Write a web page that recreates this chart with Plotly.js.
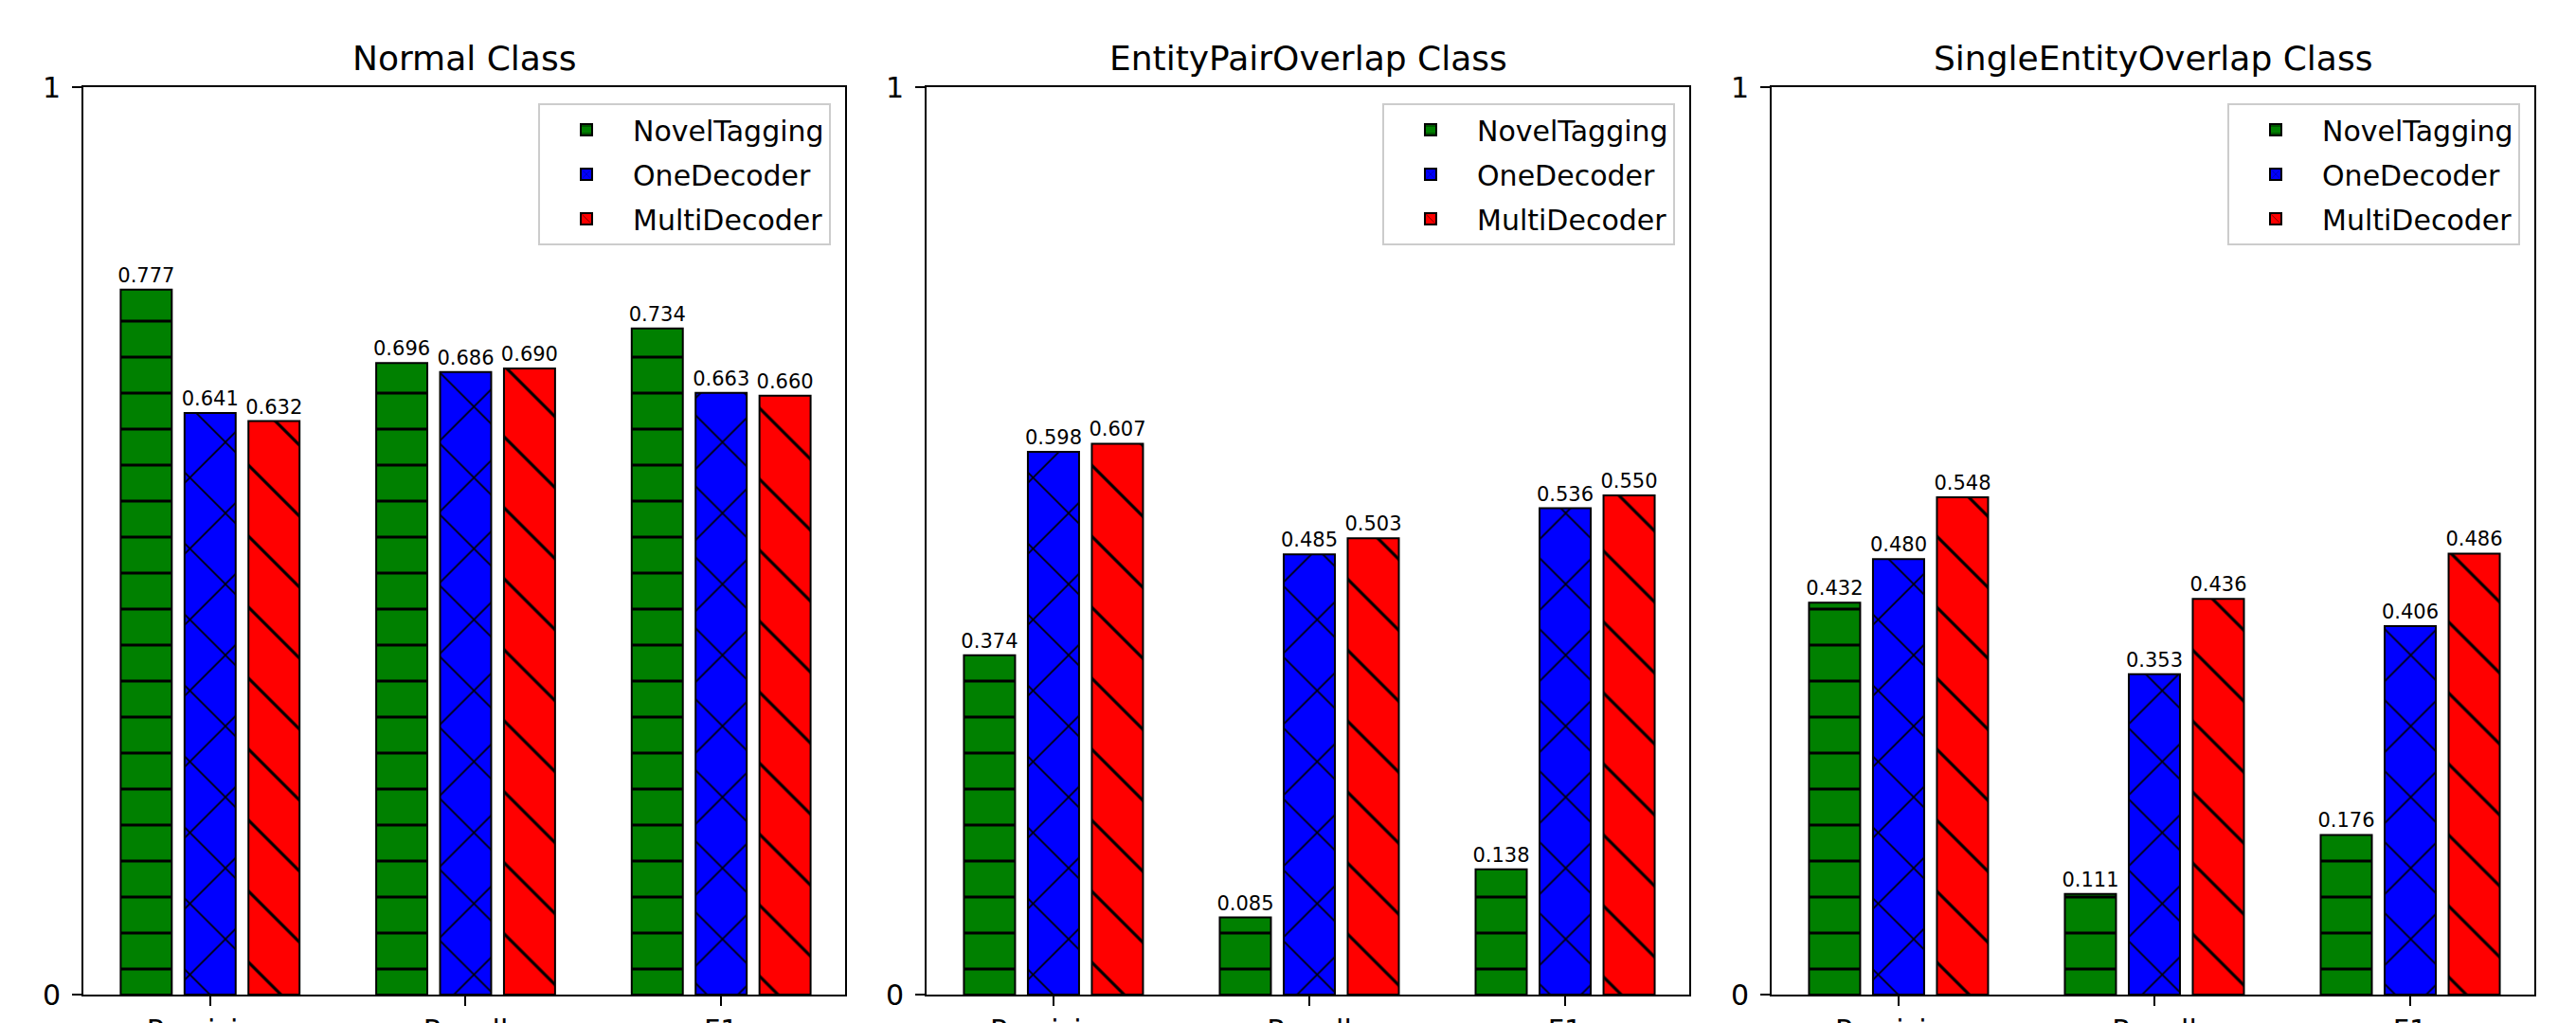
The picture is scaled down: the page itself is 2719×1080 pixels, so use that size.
<!DOCTYPE html>
<html>
<head>
<meta charset="utf-8">
<script src="https://cdn.plot.ly/plotly-3.0.1.min.js"></script>
<style>html,body{margin:0;padding:0;background:#fff;}#chart{width:2719px;height:1080px;}</style>
</head>
<body>
<div id="chart"></div>
<script>
// ---- data ----
const categories = ['Precision', 'Recall', 'F1'];
const seriesNames = ['NovelTagging', 'OneDecoder', 'MultiDecoder'];
const panelTitles = ['Normal Class', 'EntityPairOverlap Class', 'SingleEntityOverlap Class'];

const normalNovelTagging = [0.777, 0.696, 0.734];
const normalOneDecoder   = [0.641, 0.686, 0.663];
const normalMultiDecoder = [0.632, 0.690, 0.660];

const epoNovelTagging = [0.374, 0.085, 0.138];
const epoOneDecoder   = [0.598, 0.485, 0.536];
const epoMultiDecoder = [0.607, 0.503, 0.550];

const seoNovelTagging = [0.432, 0.111, 0.176];
const seoOneDecoder   = [0.480, 0.353, 0.406];
const seoMultiDecoder = [0.548, 0.436, 0.486];

const yTickVals = [0, 1];
const yTickText = ['0', '1'];

// ---- styling ----
const W = 2719, H = 1080;
const FONT = 'DejaVu Sans, sans-serif';
const colors = ['#008000', '#0000ff', '#ff0000'];
const patterns = [
  {shape: '-', size: 38, solidity: 0.08},
  {shape: 'x', size: 53, solidity: 0.06},
  {shape: '\\', size: 53, solidity: 0.06}
];
const panelsPx = [[88, 892], [978, 1783], [1870, 2675]];
const plotTop = 92, plotBottom = 1050;

const panels = [
  [normalNovelTagging, normalOneDecoder, normalMultiDecoder],
  [epoNovelTagging, epoOneDecoder, epoMultiDecoder],
  [seoNovelTagging, seoOneDecoder, seoMultiDecoder]
];

const traces = [];
const layout = {
  width: W, height: H,
  margin: {l: 0, r: 0, t: plotTop, b: H - plotBottom, pad: 0},
  paper_bgcolor: '#fff', plot_bgcolor: '#fff',
  barmode: 'group', bargap: 0.25, bargroupgap: 0.2,
  font: {family: FONT, color: '#000', size: 30},
  annotations: [],
  showlegend: true
};

panels.forEach((series, p) => {
  const sfx = p === 0 ? '' : String(p + 1);
  const xa = 'xaxis' + sfx, ya = 'yaxis' + sfx, lg = 'legend' + sfx;
  series.forEach((vals, s) => {
    traces.push({
      type: 'bar',
      x: categories,
      y: vals,
      name: seriesNames[s],
      xaxis: 'x' + sfx, yaxis: 'y' + sfx,
      legend: lg,
      legendgroup: 'p' + p + 's' + s,
      marker: {
        color: colors[s],
        line: {color: '#000', width: 2},
        pattern: Object.assign({fgcolor: '#000', fgopacity: 1, bgcolor: colors[s], fillmode: 'replace'}, patterns[s])
      },
      text: vals.map(v => v.toFixed(3)),
      textposition: 'outside',
      textfont: {size: 21, family: FONT, color: '#000'},
      constraintext: 'none',
      cliponaxis: false,
      hoverinfo: 'x+y'
    });
  });
  const d0 = panelsPx[p][0] / W, d1 = panelsPx[p][1] / W;
  layout[xa] = {
    domain: [d0, d1],
    anchor: 'y' + sfx,
    type: 'category',
    range: [-0.496, 2.485],
    showline: true, mirror: true, linecolor: '#000', linewidth: 2,
    ticks: 'outside', ticklen: 10, tickwidth: 2, tickcolor: '#000',
    tickfont: {size: 30, family: FONT},
    showgrid: false, zeroline: false, fixedrange: true
  };
  layout[ya] = {
    domain: [0, 1],
    anchor: 'x' + sfx,
    range: [0, 1],
    tickmode: 'array', tickvals: yTickVals, ticktext: yTickText,
    showline: true, mirror: true, linecolor: '#000', linewidth: 2,
    ticks: 'outside', ticklen: 10, tickwidth: 2, tickcolor: '#000',
    ticklabelstandoff: 6,
    tickfont: {size: 30, family: FONT},
    showgrid: false, zeroline: false, fixedrange: true
  };
  layout[lg] = {
    x: (panelsPx[p][1] - 15) / W, xanchor: 'right',
    y: (plotBottom - 109) / (plotBottom - plotTop), yanchor: 'top',
    bgcolor: 'rgba(255,255,255,0.8)', bordercolor: '#cccccc', borderwidth: 2,
    font: {size: 30, family: FONT, color: '#000'},
    itemwidth: 88,
    traceorder: 'grouped',
    tracegroupgap: 5
  };
  layout.annotations.push({
    text: panelTitles[p],
    xref: 'paper', yref: 'paper',
    x: (d0 + d1) / 2, y: 1, xanchor: 'center', yanchor: 'bottom',
    yshift: 8, showarrow: false,
    font: {size: 36, family: FONT, color: '#000'}
  });
});

Plotly.newPlot('chart', traces, layout, {displayModeBar: false, staticPlot: true});
</script>
</body>
</html>
